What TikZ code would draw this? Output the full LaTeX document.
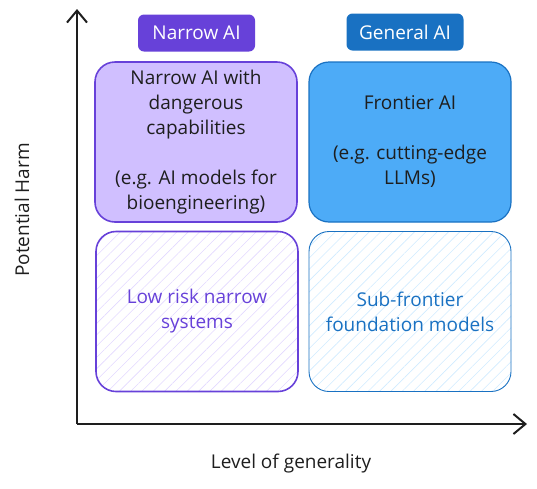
\documentclass[tikz,border=0pt]{standalone}
\usepackage{fontspec}
\setmainfont{Open Sans}
\usetikzlibrary{arrows.meta,patterns.meta}
\definecolor{violetline}{HTML}{6741D9}
\definecolor{violetfill}{HTML}{D0BFFF}
\definecolor{violethatch}{HTML}{E2D8FF}
\definecolor{blueline}{HTML}{1971C2}
\definecolor{bluefill}{HTML}{4DABF7}
\definecolor{bluehatch}{HTML}{D0EBFF}
\definecolor{ink}{HTML}{1E1E1E}
\begin{document}
\begin{tikzpicture}[x=1pt,y=-1pt]
			\tikzstyle{CAT}=[rounded corners=6pt,minimum width=117pt,minimum height=37pt,text=white,font=\fontsize{19}{22}\selectfont]
			\tikzstyle{BOX}=[draw,rounded corners=20pt,minimum width=202pt,minimum height=160pt,align=center,font=\fontsize{19}{25}\selectfont]
			\tikzstyle{AX}=[draw=ink,line width=2.2pt,-{Straight Barb[length=12pt,width=20pt,line width=2pt]}]
			\useasboundingbox (0,0) rectangle (537,488);
			\begin{scope}
			\node[CAT,fill=violetline] (cat-n) at (196.5,33) {Narrow AI};
			\node[CAT,fill=blueline] (cat-g) at (405,32) {General AI};
			
			\node[BOX,draw=violetline,line width=1.6pt,fill=violetfill,text=ink] (box-11) at (196,142)
				{Narrow AI with\\dangerous\\capabilities\\[25pt](e.g. AI models for\\bioengineering)};
			\node[BOX,draw=blueline,line width=1.2pt,fill=bluefill,text=ink] (box-12) at (410,142)
				{Frontier AI\\[25pt](e.g. cutting-edge\\LLMs)};
			\node[BOX,draw=violetline,line width=1.6pt,text=violetline,
				pattern={Lines[angle=45,distance=8pt,line width=0.6pt]},pattern color=violethatch] (box-21) at (197,311.5)
				{Low risk narrow\\systems};
			\node[BOX,draw=blueline,line width=0.9pt,text=blueline,
				pattern={Lines[angle=45,distance=8pt,line width=0.6pt]},pattern color=bluehatch] (box-22) at (410,311.5)
				{Sub-frontier\\foundation models};
			\end{scope}
			
			\coordinate (o) at (77,424);
			\coordinate (harm) at (77,9);
			\coordinate (gen) at (527,424);
			\draw[AX] (o) -- (harm);
			\draw[AX] (o) -- (gen);
			
			\node[rotate=90,text=ink,font=\fontsize{19}{22}\selectfont] (lab-y) at (22,210) {Potential Harm};
			\node[text=ink,font=\fontsize{19}{22}\selectfont] (lab-x) at (291,464) {Level of generality};
		\end{tikzpicture}
\end{document}
